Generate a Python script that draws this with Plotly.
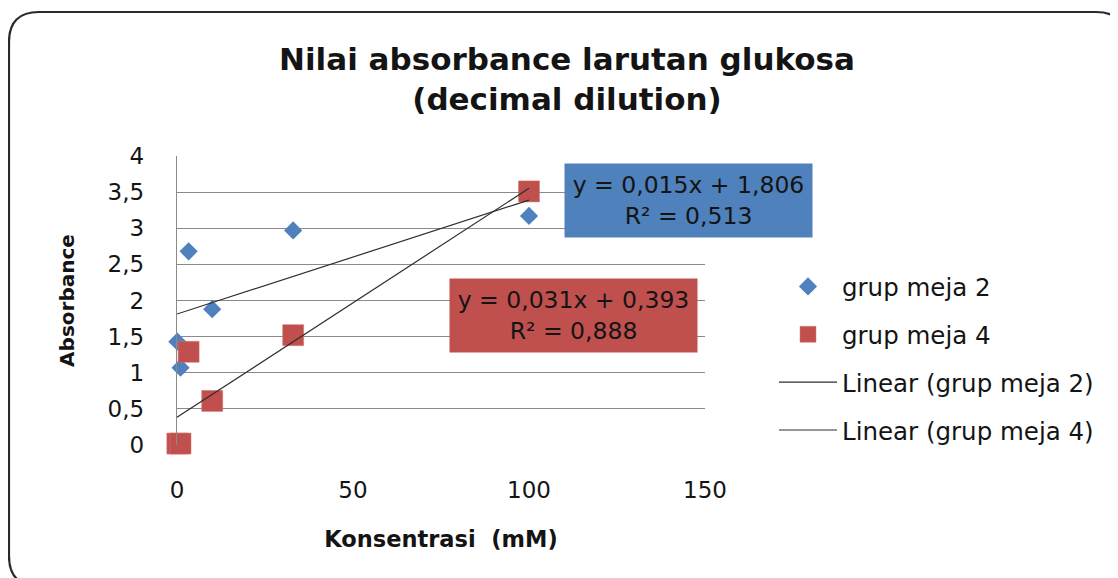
import numpy as np
import plotly.graph_objects as go

# ---- data ----
konsentrasi = [0.1, 1, 3.3, 10, 33, 100]
abs_meja2 = [1.43, 1.07, 2.68, 1.88, 2.97, 3.17]
abs_meja4 = [0.02, 0.02, 1.29, 0.61, 1.52, 3.51]
eq_meja2 = "y = 0,015x + 1,806<br>R² = 0,513"
eq_meja4 = "y = 0,031x + 0,393<br>R² = 0,888"
y_ticks = [0, 0.5, 1, 1.5, 2, 2.5, 3, 3.5, 4]
y_tick_labels = ["0", "0,5", "1", "1,5", "2", "2,5", "3", "3,5", "4"]
x_ticks = [0, 50, 100, 150]
x_tick_labels = ["0", "50", "100", "150"]

W, H = 1118, 578
OFF = 8  # page body margin
L, T, PW, PH = 169, 148, 528, 289
R, B = W - L - PW, H - T - PH

def px(xs):
    return (xs - OFF - L) / PW

def py(ys):
    return (T + PH - (ys - OFF)) / PH

FONT = "'DejaVu Sans', Verdana, sans-serif"
BLUE = "#4F81BD"
RED = "#C0504D"
TXT = "#141414"

x_arr = np.array(konsentrasi)
fit2 = np.polyfit(x_arr, np.array(abs_meja2), 1)
fit4 = np.polyfit(x_arr, np.array(abs_meja4), 1)
x_line = np.array([0, x_arr.max()])

fig = go.Figure()
fig.add_trace(go.Scatter(x=konsentrasi, y=abs_meja2, mode="markers", name="grup meja 2",
                         legendgroup="a", cliponaxis=False,
                         marker=dict(symbol="diamond", size=14, color=BLUE,
                                     line=dict(width=0))))
fig.add_trace(go.Scatter(x=konsentrasi, y=abs_meja4, mode="markers", name="grup meja 4",
                         legendgroup="b", cliponaxis=False,
                         marker=dict(symbol="square", size=21, color=RED,
                                     line=dict(width=0.5, color="#d9726f"))))
fig.add_trace(go.Scatter(x=x_line, y=np.polyval(fit2, x_line), mode="lines",
                         name="Linear (grup meja 2)", legendgroup="c",
                         line=dict(color="#2e2e2e", width=1.2)))
fig.add_trace(go.Scatter(x=x_line, y=np.polyval(fit4, x_line), mode="lines",
                         name="Linear (grup meja 4)", legendgroup="d",
                         line=dict(color="#2e2e2e", width=1.2)))

def rounded_path(x0, y0, x1, y1, r):
    X0, X1 = px(x0), px(x1)
    Y0, Y1 = py(y0), py(y1)
    rx, ry = r / PW, r / PH
    return (f"M {X0+rx},{Y0} L {X1-rx},{Y0} Q {X1},{Y0} {X1},{Y0-ry} "
            f"L {X1},{Y1+ry} Q {X1},{Y1} {X1-rx},{Y1} "
            f"L {X0+rx},{Y1} Q {X0},{Y1} {X0},{Y1+ry} "
            f"L {X0},{Y0-ry} Q {X0},{Y0} {X0+rx},{Y0} Z")

shapes = [dict(type="path", xref="paper", yref="paper",
               path=rounded_path(9, 12, 1126, 586, 30),
               line=dict(color="#2a2a2a", width=2.2), layer="below")]

annotations = [
    dict(text=eq_meja2, xref="paper", yref="paper", x=px(688.5), y=py(200.5),
         xanchor="center", yanchor="middle", showarrow=False,
         bgcolor=BLUE, width=241, height=67, borderpad=3,
         font=dict(family=FONT, size=23.5, color=TXT)),
    dict(text=eq_meja4, xref="paper", yref="paper", x=px(573.5), y=py(315),
         xanchor="center", yanchor="middle", showarrow=False,
         bgcolor=RED, width=241, height=67, borderpad=3,
         font=dict(family=FONT, size=23.5, color=TXT)),
]

fig.update_layout(
    width=W, height=H,
    margin=dict(l=L, r=R, t=T, b=B, autoexpand=False),
    paper_bgcolor="white", plot_bgcolor="white",
    font=dict(family=FONT, color=TXT),
    title=dict(text="<b>Nilai absorbance larutan glukosa<br>(decimal dilution)</b>",
               xref="container", yref="container",
               x=(567 - OFF) / W, xanchor="center",
               y=1 - (70 - OFF) / H, yanchor="middle",
               font=dict(family=FONT, size=31, color=TXT)),
    showlegend=True,
    legend=dict(x=px(774), xanchor="left", y=py(264), yanchor="top",
                font=dict(family=FONT, size=24.5, color=TXT),
                tracegroupgap=13, itemwidth=58, bgcolor="rgba(0,0,0,0)"),
    shapes=shapes, annotations=annotations,
)

fig.update_xaxes(range=[0, 150], tickvals=x_ticks, ticktext=x_tick_labels,
                 showgrid=False, zeroline=False, showline=False,
                 ticks="", ticklabelstandoff=29,
                 tickfont=dict(family=FONT, size=23, color=TXT),
                 title=dict(text="<b>Konsentrasi\u00a0\u00a0(mM)</b>", standoff=29,
                            font=dict(family=FONT, size=22.5, color=TXT)))
fig.update_yaxes(range=[0, 4], tickvals=y_ticks, ticktext=y_tick_labels,
                 showgrid=True, gridcolor="#8a8a8a", gridwidth=1.4,
                 zeroline=False, showline=True, linecolor="#8a8a8a", linewidth=1.4,
                 ticks="", ticklabelstandoff=27,
                 tickfont=dict(family=FONT, size=23, color=TXT),
                 title=dict(text="<b>Absorbance</b>", standoff=27,
                            font=dict(family=FONT, size=20, color=TXT)))

fig.write_html("out.html")
